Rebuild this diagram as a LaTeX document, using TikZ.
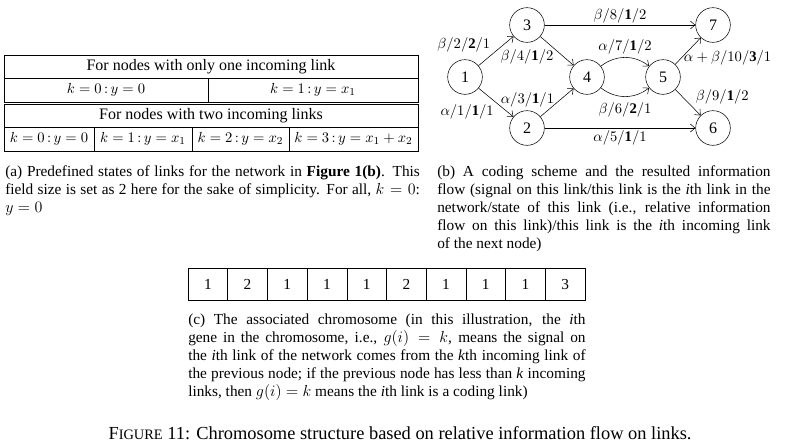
\documentclass[tikz,border=0pt]{standalone}
\usepackage{fontspec}
\setmainfont{Liberation Serif}
\usetikzlibrary{arrows.meta,positioning}
\newcommand{\fsc}[1]{{\fontsize{10.8}{13}\selectfont #1}}

\begin{document}
\begin{tikzpicture}[x=0.75pt,y=-0.75pt,
  vtx/.style={draw, circle, minimum size=26pt, inner sep=0pt, font=\fontsize{12}{14}\selectfont},
  link/.style={-{Straight Barb[length=3.5pt,width=6pt]}, thin},
  lab/.style={font=\fontsize{11}{13}\selectfont, inner sep=1.5pt},
  cell/.style={draw, thin, inner sep=0pt, font=\fontsize{12}{14}\selectfont},
  mcell/.style={cell, minimum height=18pt, font=\fontsize{11}{13}\selectfont},
  gene/.style={draw, thin, minimum width=29.8pt, minimum height=24pt, inner sep=0pt, font=\fontsize{11.5}{13}\selectfont},
  capt/.style={align=justify, anchor=north west, inner sep=0pt, font=\fontsize{11.5}{13.5}\selectfont}
]
\useasboundingbox (0,0) rectangle (785,444);

% (a) predefined states
\node[cell, minimum width=310.5pt, minimum height=17.25pt] (one) at (211,66.5) {For nodes with only one incoming link};
\node[mcell, minimum width=153pt] (oneA) at (106,90) {$k = 0\,{:}\,y = 0$};
\node[mcell, minimum width=157.5pt] (oneB) at (313,90) {$k = 1\,{:}\,y = x_1$};
\draw[line width=0.6pt] (4,55) rectangle (418,102);
\node[cell, minimum width=310.5pt, minimum height=17.25pt] (two) at (211,115.5) {For nodes with two incoming links};
\node[mcell, minimum width=67.5pt] (twoA) at (49,139) {$k = 0\,{:}\,y = 0$};
\node[mcell, minimum width=73.5pt] (twoB) at (143,139) {$k = 1\,{:}\,y = x_1$};
\node[mcell, minimum width=72.75pt] (twoC) at (240.5,139) {$k = 2\,{:}\,y = x_2$};
\node[mcell, minimum width=96.75pt] (twoD) at (353.5,139) {$k = 3\,{:}\,y = x_1 + x_2$};
\draw[line width=0.6pt] (4,104.5) rectangle (418,151);

% (b) coding scheme
\node[vtx] (n1) at (465,77) {1};
\node[vtx] (n3) at (527,25) {3};
\node[vtx] (n2) at (527,128) {2};
\node[vtx] (n4) at (587,77) {4};
\node[vtx] (n5) at (663,77) {5};
\node[vtx] (n7) at (713,25) {7};
\node[vtx] (n6) at (713,128) {6};
\draw[link] (n1) -- node[lab, above left, pos=0.4] {$\beta/2/\mathbf{2}/1$} (n3);
\draw[link] (n1) -- node[lab, below left, pos=0.5] {$\alpha/1/\mathbf{1}/1$} (n2);
\draw[link] (n3) -- node[lab, left=6pt, pos=0.7] {$\beta/4/\mathbf{1}/2$} (n4);
\draw[link] (n2) -- node[lab, left=3pt, pos=0.6] {$\alpha/3/\mathbf{1}/1$} (n4);
\draw[link] (n3) -- node[lab, above] {$\beta/8/\mathbf{1}/2$} (n7);
\draw[link] (n2) -- node[lab, below] {$\alpha/5/\mathbf{1}/1$} (n6);
\draw[link] (n4) to[bend left=38] node[lab, above=1pt] {$\alpha/7/\mathbf{1}/2$} (n5);
\draw[link] (n4) to[bend right=38] node[lab, below=3pt] {$\beta/6/\mathbf{2}/1$} (n5);
\draw[link] (n5) -- node[lab, right, pos=0.25] {$\alpha + \beta/10/\mathbf{3}/1$} (n7);
\draw[link] (n5) -- node[lab, right=8pt, pos=0.3] {$\beta/9/\mathbf{1}/2$} (n6);

% (c) chromosome
\foreach \g [count=\i] in {1,2,1,1,1,2,1,1,1,3}
  \node[gene] (g\i) at ({188+39.7*(\i-0.5)},284) {\g};

% captions
\node[capt, text width=311pt] (capA) at (5,165) {(a) Predefined states of links for the network in \textbf{Figure 1(b)}. This\linebreak field size is set as 2 here for the sake of simplicity. For all, $k = 0$:\linebreak $y = 0$};
\node[capt, text width=250pt] (capB) at (437,165) {(b) A coding scheme and the resulted information\linebreak flow (signal on this link/this link is the \textit{i}th link in the\linebreak network/state of this link (i.e., relative information\linebreak flow on this link)/this link is the \textit{i}th incoming link\linebreak of the next node)};
\node[capt, text width=298pt] (capC) at (188,314) {(c) The associated chromosome (in this illustration, the \textit{i}th\linebreak gene in the chromosome, i.e., $g(i) = k$, means the signal on\linebreak the \textit{i}th link of the network comes from the \textit{k}th incoming link of\linebreak the previous node; if the previous node has less than \textit{k} incoming\linebreak links, then $g(i) = k$ means the \textit{i}th link is a coding link)};
\node[font=\fontsize{13.8}{16}\selectfont] (fig) at (400,433) {F\fsc{IGURE} 11: Chromosome structure based on relative information flow on links.};
\end{tikzpicture}
\end{document}
